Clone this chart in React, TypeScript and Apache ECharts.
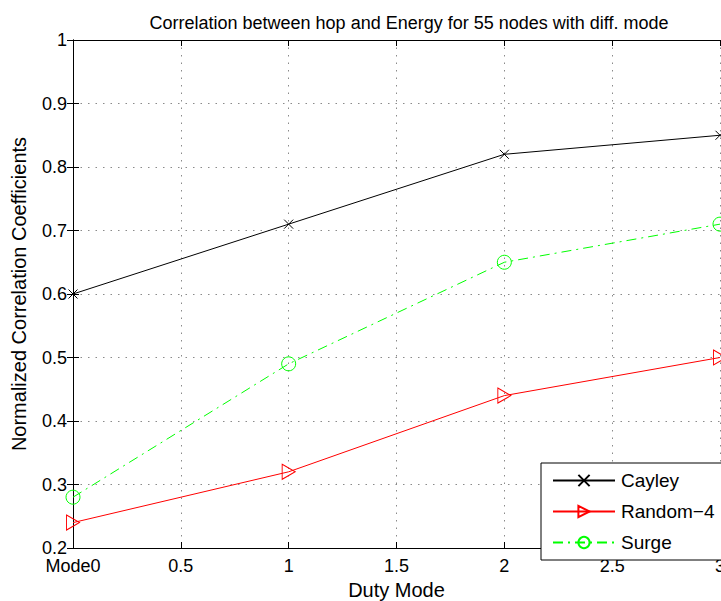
import React, { useEffect, useRef } from "react";
import * as echarts from "echarts";

// Duty modes on the x axis (0 is labelled "Mode0")
const modes = [0, 1, 2, 3];
const xTicks = [0, 0.5, 1, 1.5, 2, 2.5, 3];

// Normalized correlation coefficient per topology
const cayley = [0.6, 0.71, 0.82, 0.85];
const random4 = [0.24, 0.32, 0.44, 0.5];
const surge = [0.28, 0.49, 0.65, 0.71];

const seriesNames = ["Cayley", "Random\u22124", "Surge"];

const FONT = "Liberation Sans, Arial, Helvetica, sans-serif";

const CROSS = "path://M0,0L10,10M10,0L0,10";
const TRIANGLE = "path://M0,0L10,5L0,10Z";

function pairs(vals: number[]) {
  return modes.map((m, i) => [m, vals[i]]);
}

export default function App() {
  const ref = useRef<HTMLDivElement>(null);

  useEffect(() => {
    document.body.style.margin = "0";
    if (!ref.current) return;
    const chart = echarts.init(ref.current, undefined, { renderer: "svg" });

    const tickStyle = { show: true, inside: true, length: 6, lineStyle: { color: "#000", width: 1 } };
    const axisLine = { show: true, lineStyle: { color: "#000", width: 1 } };
    const splitLine = { show: true, lineStyle: { color: "#8a8a8a", width: 1, type: [1.5, 6] as any } };

    chart.setOption({
      animation: false,
      backgroundColor: "#fff",
      textStyle: { fontFamily: FONT },
      title: {
        text: "Correlation between hop and Energy for 55 nodes with diff. mode",
        left: 404,
        textAlign: "center",
        top: 9,
        textStyle: { fontFamily: FONT, fontSize: 18, fontWeight: "normal", color: "#000" },
      },
      grid: { left: 73, top: 40, width: 647, height: 508, outerBoundsMode: "none" },
      legend: {
        orient: "vertical",
        left: 541,
        top: 463,
        width: 200,
        padding: [8, 30, 8, 11],
        itemWidth: 62,
        itemHeight: 14,
        itemGap: 12,
        backgroundColor: "#fff",
        borderColor: "#000",
        borderWidth: 1,
        borderRadius: 0,
        align: "left",
        textStyle: { fontFamily: FONT, fontSize: 19, color: "#000", padding: [0, 0, 0, 1] },
        data: seriesNames,
      },
      xAxis: [
        {
          type: "value",
          min: 0,
          max: 3,
          interval: 0.5,
          name: "Duty Mode",
          nameLocation: "middle",
          nameGap: 31,
          nameTextStyle: { fontFamily: FONT, fontSize: 20, color: "#000" },
          axisLine,
          axisTick: tickStyle,
          splitLine,
          axisLabel: {
            fontFamily: FONT,
            fontSize: 18,
            color: "#000",
            margin: 9,
            showMinLabel: true,
            showMaxLabel: true,
            formatter: (v: number) => (v === xTicks[0] ? "Mode0" : String(v)),
          },
        },
        {
          type: "value",
          position: "top",
          min: 0,
          max: 3,
          interval: 0.5,
          axisLine,
          axisTick: tickStyle,
          axisLabel: { show: false },
          splitLine: { show: false },
        },
      ],
      yAxis: [
        {
          type: "value",
          min: 0.2,
          max: 1,
          interval: 0.1,
          name: "Normalized Correlation Coefficients",
          nameLocation: "middle",
          nameGap: 44,
          nameTextStyle: { fontFamily: FONT, fontSize: 20, color: "#000" },
          axisLine,
          axisTick: tickStyle,
          splitLine,
          axisLabel: {
            fontFamily: FONT,
            fontSize: 18,
            color: "#000",
            margin: 6,
            formatter: (v: number) => (Math.round(v * 10) / 10 === 1 ? "1" : v.toFixed(1)),
          },
        },
        {
          type: "value",
          position: "right",
          min: 0.2,
          max: 1,
          interval: 0.1,
          axisLine,
          axisTick: tickStyle,
          axisLabel: { show: false },
          splitLine: { show: false },
        },
      ],
      series: [
        {
          name: seriesNames[0],
          type: "line",
          data: pairs(cayley),
          clip: false,
          symbol: CROSS,
          symbolSize: 9,
          itemStyle: { color: "#000", borderColor: "#000", borderWidth: 1 },
          lineStyle: { color: "#000", width: 1 },
        },
        {
          name: seriesNames[1],
          type: "line",
          data: pairs(random4),
          clip: false,
          symbol: TRIANGLE,
          symbolSize: [13, 15],
          itemStyle: { color: "rgba(255,255,255,0)", borderColor: "#ff0000", borderWidth: 1 },
          lineStyle: { color: "#ff0000", width: 1 },
        },
        {
          name: seriesNames[2],
          type: "line",
          data: pairs(surge),
          clip: false,
          symbol: "circle",
          symbolSize: 14,
          itemStyle: { color: "rgba(255,255,255,0)", borderColor: "#00ff00", borderWidth: 1 },
          lineStyle: { color: "#00ff00", width: 1, type: [10, 5, 2, 5] as any },
        },
      ],
    });

    return () => chart.dispose();
  }, []);

  return <div ref={ref} style={{ width: 721, height: 601 }} />;
}
